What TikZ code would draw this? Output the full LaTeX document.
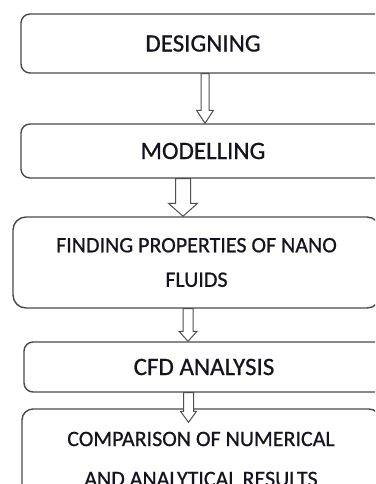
\documentclass[tikz,border=0pt]{standalone}
\usepackage{fontspec}
\setmainfont{Carlito}
\newfontfamily\stepfont{Carlito}[RawFeature={embolden=0.7}]
\usetikzlibrary{calc}
\definecolor{boxline}{HTML}{4A4A4A}
\definecolor{arrline}{HTML}{505050}
\definecolor{txt}{HTML}{141420}
\tikzset{
  stepbox/.style={draw=boxline, line width=1.4pt, fill=white, rounded corners=#1,
    text=txt, align=center, inner sep=0pt},
  stepbox/.default=9pt,
  bigtext/.style={font=\stepfont\fontsize{25}{30}\selectfont},
  smalltext/.style={font=\stepfont\fontsize{22}{34.5}\selectfont},
  lowtext/.style={font=\stepfont\fontsize{22}{40}\selectfont},
  blockarrow/.style={draw=arrline, line width=1pt, fill=white, line join=miter},
}
% from node, to node, x, shaft half width, head half width, head length, tip overshoot
\newcommand{\blockarr}[7]{%
  \path[blockarrow] let \p1=(#1.south), \p2=(#2.north) in
    ({#3pt-#4pt},{\y1}) -- ({#3pt-#4pt},{\y2-#7pt+#6pt}) --
    ({#3pt-#5pt},{\y2-#7pt+#6pt}) -- ({#3pt},{\y2-#7pt}) --
    ({#3pt+#5pt},{\y2-#7pt+#6pt}) -- ({#3pt+#4pt},{\y2-#7pt+#6pt}) --
    ({#3pt+#4pt},{\y1}) -- cycle;}
\begin{document}
\begin{tikzpicture}[x=1pt,y=-1pt]
  \useasboundingbox (0,0) rectangle (375,484);
  \clip (0,0) rectangle (375,484);
  \fill[white] (0,0) rectangle (375,484);
  \node[stepbox=9pt, bigtext, minimum width=364pt, minimum height=59pt] (b1) at (203,43.5) {DESIGNING};
  \node[stepbox=9pt, bigtext, minimum width=364pt, minimum height=54pt] (b2) at (203,151) {MODELLING};
  \node[stepbox=13pt, smalltext, minimum width=367pt, minimum height=91pt] (b3) at (196.5,262.5) {FINDING PROPERTIES OF NANO\\FLUIDS};
  \node[stepbox=9pt, bigtext, minimum width=360pt, minimum height=50pt] (b4) at (204,367) {CFD ANALYSIS};
  \node[stepbox=11pt, lowtext, minimum width=358pt, minimum height=100pt] (b5) at (201,459) {COMPARISON OF NUMERICAL\\AND ANALYTICAL RESULTS};
  \blockarr{b1}{b2}{205}{4}{8.5}{13}{0}
  \blockarr{b2}{b3}{183}{7.5}{14.5}{13}{0}
  \blockarr{b3}{b4}{188}{5}{9}{10}{0}
  \blockarr{b4}{b5}{188.5}{5}{8}{11}{14}
\end{tikzpicture}
\end{document}
